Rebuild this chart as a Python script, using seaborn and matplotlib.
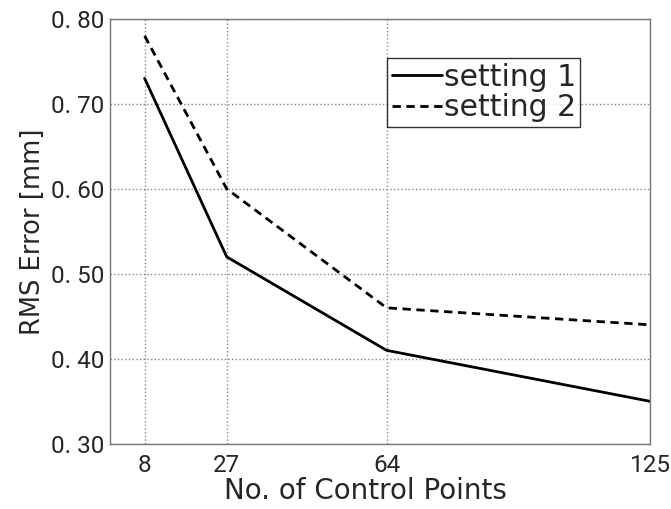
import pandas as pd
import matplotlib
matplotlib.use("Agg")
from matplotlib import pyplot as plt
import seaborn as sns

## Chart values
control_points = [8, 27, 64, 125]
setting1_rms = [0.73, 0.52, 0.41, 0.35]
setting2_rms = [0.78, 0.60, 0.46, 0.44]
series_names = ['setting 1', 'setting 2']
y_ticks = [0.30, 0.40, 0.50, 0.60, 0.70, 0.80]
y_tick_labels = ['0. 30', '0. 40', '0. 50', '0. 60', '0. 70', '0. 80']

## Long-form table for seaborn
df = pd.DataFrame({
    'points': control_points * 2,
    'rms': setting1_rms + setting2_rms,
    'setting': [series_names[0]] * 4 + [series_names[1]] * 4,
})

sns.set_theme(style='white')
plt.rcParams['font.family'] = ['DejaVu Sans']

fig = plt.figure(figsize=(6.71, 5.09), dpi=100)
ax = fig.add_axes([0.164, 0.128, 0.805, 0.835])

sns.lineplot(data=df, x='points', y='rms', style='setting', color='black',
             dashes={'setting 1': '', 'setting 2': (3, 2)}, linewidth=2, ax=ax)

ax.set_xlim(0, 125)
ax.set_ylim(0.30, 0.80)
ax.set_xticks(control_points)
ax.set_xticklabels([str(p) for p in control_points])
ax.set_yticks(y_ticks)
ax.set_yticklabels(y_tick_labels)
ax.tick_params(direction='in', length=4, color='#555555')
ax.tick_params(axis='x', pad=7)
ax.tick_params(axis='y', pad=4)
for lab in ax.get_xticklabels() + ax.get_yticklabels():
    lab.set_family(['Roboto', 'DejaVu Sans'])
    lab.set_fontsize(17.5)

ax.grid(True, linestyle=':', color='#888888', linewidth=1)
for s in ax.spines.values():
    s.set_color('#777777')
    s.set_linewidth(1)

ax.set_xlabel('No. of Control Points', fontsize=20, labelpad=0)
ax.xaxis.label.set_x(0.472)
ax.set_ylabel('RMS Error [mm]', fontsize=18.5, labelpad=4)

leg = ax.legend(loc='upper left', bbox_to_anchor=(0.513, 0.907), fontsize=21.5,
                frameon=True, fancybox=False, handlelength=1.7, handletextpad=0.05,
                borderpad=0.15, borderaxespad=0, labelspacing=0.05)
leg.get_frame().set_edgecolor('black')
leg.get_frame().set_linewidth(1)

fig.savefig('out.png', dpi=100)
